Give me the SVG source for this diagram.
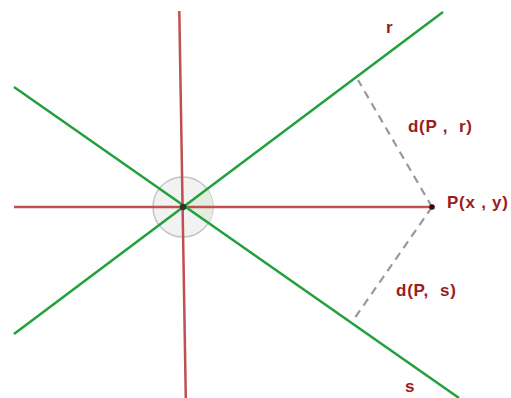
<svg xmlns="http://www.w3.org/2000/svg" width="511" height="398" viewBox="0 0 511 398">
<style>
.axis{stroke:#c0504f;stroke-width:2.5;fill:none}
.green{stroke:#22a03c;stroke-width:2.5;fill:none}
.dash{stroke:#999;stroke-width:2.2;stroke-dasharray:8,6;fill:none}
.lbl{font-family:"Liberation Sans",Arial,sans-serif;font-weight:bold;font-size:17px;fill:#9b1c1c}
</style>
<rect width="511" height="398" fill="#fff"/>
<g id="angle">
<circle cx="183" cy="207" r="30" fill="#f2f2f2" stroke="#c4c4c4" stroke-width="1.5"/>
<path d="M183,207 L207,189 A30,30 0 0,1 207.7,224.1 Z" fill="#e4eee0" stroke="none"/>
</g>
<g id="connectors">
<line class="axis" x1="14" y1="207" x2="432" y2="207"/>
<line class="axis" x1="179.3" y1="11" x2="185.8" y2="398"/>
<line id="r" class="green" x1="14" y1="334" x2="443" y2="12"/>
<line id="s" class="green" x1="14" y1="87" x2="459" y2="398"/>
<line class="dash" x1="432" y1="207" x2="358" y2="80"/>
<line class="dash" x1="432" y1="207" x2="352" y2="322"/>
</g>
<g id="origin"><circle cx="183" cy="207" r="3.2" fill="#333"/></g>
<g id="P"><circle cx="432" cy="207" r="2.8" fill="#3a0a0a"/>
<text class="lbl" x="447" y="208" textLength="61" lengthAdjust="spacing">P(x , y)</text></g>
<g id="label-r"><text class="lbl" x="386" y="33">r</text></g>
<g id="label-s"><text class="lbl" x="405" y="392">s</text></g>
<g id="label-dr"><text class="lbl" x="408" y="131.5" xml:space="preserve" textLength="64" lengthAdjust="spacing">d(P ,  r)</text></g>
<g id="label-ds"><text class="lbl" x="396" y="296" xml:space="preserve" textLength="60" lengthAdjust="spacing">d(P,  s)</text></g>
</svg>
